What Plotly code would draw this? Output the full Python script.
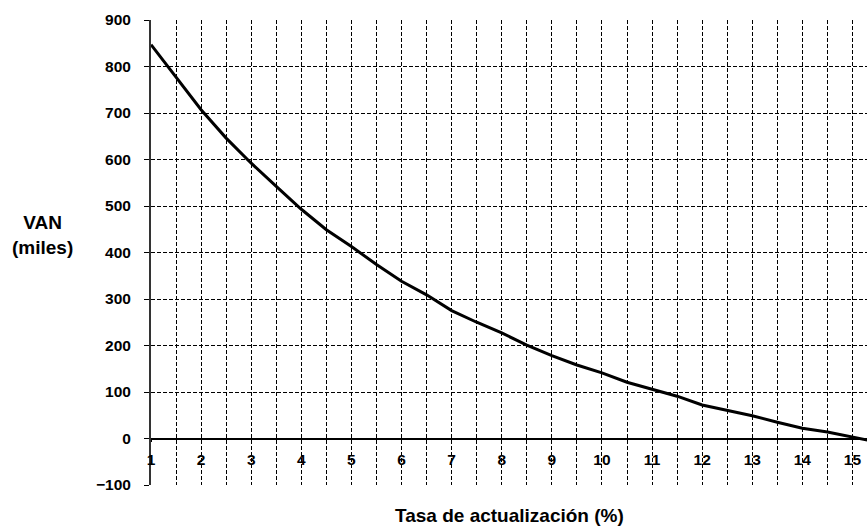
import plotly.graph_objects as go

# Tasa de actualización (%) and VAN (miles)
tasa = [1, 1.5, 2, 2.5, 3, 3.5, 4, 4.5, 5, 5.5, 6, 6.5, 7, 7.5, 8, 8.5, 9, 9.5,
        10, 10.5, 11, 11.5, 12, 12.5, 13, 13.5, 14, 14.5, 15, 15.5]
van = [847, 777, 707, 646, 592, 542, 493, 449, 413, 374, 338, 309, 275, 250, 227,
       201, 178, 158, 141, 121, 106, 91, 72, 60, 49, 35, 22, 14, 3, -8]

y_ticks = [-100, 0, 100, 200, 300, 400, 500, 600, 700, 800, 900]
x_ticks = [1, 2, 3, 4, 5, 6, 7, 8, 9, 10, 11, 12, 13, 14, 15]

FONT = "Liberation Sans, Arial, sans-serif"
x_range = [1, 15.29]
y_range = [-100, 900]

fig = go.Figure()
fig.add_trace(go.Scatter(x=tasa, y=van, mode="lines",
                         line=dict(color="black", width=3), showlegend=False))
# invisible trace so the label axis (at y = 0) is drawn
fig.add_trace(go.Scatter(x=[tasa[0]], y=[0], xaxis="x2", mode="markers",
                         marker=dict(opacity=0), showlegend=False, hoverinfo="skip"))

fig.update_layout(
    width=867, height=528,
    margin=dict(l=151, r=0, t=20, b=43),
    paper_bgcolor="white", plot_bgcolor="white",
    font=dict(family=FONT, color="black"),
    xaxis=dict(range=x_range, dtick=0.5, tick0=1, showticklabels=False,
               showgrid=True, gridcolor="black", gridwidth=1, griddash="4px,2px",
               zeroline=False, showline=False, automargin=False),
    xaxis2=dict(range=x_range, overlaying="x", anchor="free", position=0.1,
                tickvals=x_ticks, ticks="outside", ticklen=3, tickcolor="black",
                showgrid=False, zeroline=False, showline=True, linecolor="black",
                linewidth=1.5, ticklabelstandoff=4, automargin=False,
                tickfont=dict(family=FONT, size=15.5, weight="bold")),
    yaxis=dict(range=y_range, tickvals=y_ticks, ticks="outside", ticklen=5,
               tickcolor="black", showline=True, linecolor="#333333", linewidth=2,
               showgrid=True, gridcolor="black", gridwidth=1, griddash="4px,2px",
               zeroline=False, ticklabelstandoff=10, automargin=False,
               tickfont=dict(family=FONT, size=15.5, weight="bold")),
    annotations=[
        dict(text="VAN<br>(miles)", xref="paper", yref="paper", x=-0.152, y=0.538,
             showarrow=False, xanchor="center", yanchor="middle",
             font=dict(family=FONT, size=19, weight="bold")),
        dict(text="Tasa de actualización (%)", xref="paper", yref="paper",
             x=0.5, y=-0.066, showarrow=False, xanchor="center", yanchor="middle",
             font=dict(family=FONT, size=19, weight="bold")),
    ],
)

# page has a default 8px body margin; remove it so the figure fills the window
fig.write_html("out.html", config={"displayModeBar": False},
               post_script="document.body.style.margin='0';")
